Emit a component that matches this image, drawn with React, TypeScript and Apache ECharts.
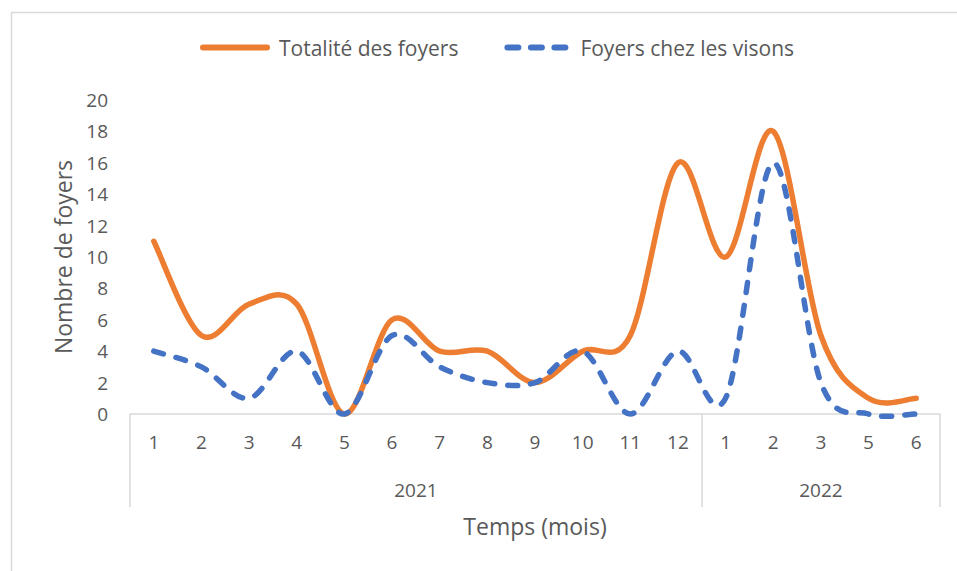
import React, { useEffect, useRef } from "react";
import * as echarts from "echarts";

const months = ["1", "2", "3", "4", "5", "6", "7", "8", "9", "10", "11", "12", "1", "2", "3", "5", "6"];
const years = ["2021", "2022"];
const yearSpans = [12, 5];
const totalFoyers = [11, 5, 7, 7, 0, 6, 4, 4, 2, 4, 5, 16, 10, 18, 5, 1, 1];
const visonFoyers = [4, 3, 1, 4, 0, 5, 3, 2, 2, 4, 0, 4, 1, 16, 2, 0, 0];

const FONT = "Open Sans";
const GRAY = "#595959";
const LINE_GRAY = "#D9D9D9";
const ORANGE = "#ED7D31";
const BLUE = "#4472C4";

const solidIcon = "path://M3,0 H67 A3,3 0 0 1 67,6 H3 A3,3 0 0 1 3,0 Z";
const dashIcon =
  "path://M3,0 H14 A3,3 0 0 1 14,6 H3 A3,3 0 0 1 3,0 Z M26.5,0 H37.5 A3,3 0 0 1 37.5,6 H26.5 A3,3 0 0 1 26.5,0 Z M50,0 H61 A3,3 0 0 1 61,6 H50 A3,3 0 0 1 50,0 Z";

// Excel-like smoothed line (Catmull-Rom style Bezier) drawn through the library's scales
function smoothSeries(name: string, values: number[], color: string, dash?: number[]) {
  return {
    name,
    type: "custom",
    coordinateSystem: "cartesian2d",
    clip: false,
    z: 3,
    data: values.map((v, i) => [i, v]),
    encode: { x: 0, y: 1 },
    itemStyle: { color },
    renderItem: (params: any, api: any) => {
      if (params.dataIndex !== 0) return null;
      const pts = values.map((v, i) => api.coord([i, v]));
      const n = pts.length;
      const P = (k: number) => pts[Math.max(0, Math.min(n - 1, k))];
      let d = `M${pts[0][0]},${pts[0][1]}`;
      for (let i = 0; i < n - 1; i++) {
        const p0 = P(i - 1), p1 = P(i), p2 = P(i + 1), p3 = P(i + 2);
        const c1x = p1[0] + (p2[0] - p0[0]) / 6;
        const c1y = p1[1] + (p2[1] - p0[1]) / 6;
        const c2x = p2[0] - (p3[0] - p1[0]) / 6;
        const c2y = p2[1] - (p3[1] - p1[1]) / 6;
        d += ` C${c1x},${c1y} ${c2x},${c2y} ${p2[0]},${p2[1]}`;
      }
      return {
        type: "path",
        shape: { pathData: d },
        style: {
          fill: "none",
          stroke: color,
          lineWidth: 5.5,
          lineCap: "round",
          lineJoin: "round",
          lineDash: dash,
        },
      };
    },
  };
}

export default function App() {
  const ref = useRef<HTMLDivElement>(null);
  useEffect(() => {
    if (!ref.current) return;
    const chart = echarts.init(ref.current, undefined, { renderer: "svg" });
    const boundaries: number[] = [0];
    const centers: number[] = [];
    let acc = 0;
    yearSpans.forEach((s) => {
      centers.push(acc + s / 2);
      acc += s;
      boundaries.push(acc);
    });
    chart.setOption({
      animation: false,
      backgroundColor: "#ffffff",
      textStyle: { fontFamily: FONT },
      graphic: [
        {
          type: "rect",
          left: 9,
          top: 10,
          shape: { width: 1200, height: 1200 },
          style: { fill: "none", stroke: LINE_GRAY, lineWidth: 1.5 },
          silent: true,
        },
      ],
      legend: {
        top: 32,
        left: 195,
        itemWidth: 70,
        itemHeight: 6,
        itemGap: 46,
        textStyle: { color: GRAY, fontSize: 21, fontFamily: FONT, padding: [0, 0, 0, 4] },
        data: [
          { name: "Totalité des foyers", icon: solidIcon, itemStyle: { color: ORANGE } },
          { name: "Foyers chez les visons", icon: dashIcon, itemStyle: { color: BLUE } },
        ],
      },
      grid: { left: 130, right: 17, top: 100, bottom: 157, containLabel: false },
      xAxis: [
        {
          type: "category",
          data: months,
          boundaryGap: true,
          axisLine: { show: true, lineStyle: { color: LINE_GRAY, width: 1.5 } },
          axisTick: { show: false },
          axisLabel: { color: GRAY, fontSize: 19, fontFamily: FONT, margin: 18, interval: 0 },
          name: "Temps (mois)",
          nameLocation: "middle",
          nameGap: 100,
          nameTextStyle: { color: GRAY, fontSize: 23, fontFamily: FONT },
        },
        {
          type: "value",
          min: 0,
          max: months.length,
          position: "bottom",
          axisLine: { show: false },
          splitLine: { show: false },
          axisTick: {
            show: true,
            customValues: boundaries,
            length: 93,
            lineStyle: { color: LINE_GRAY, width: 1.5 },
          },
          axisLabel: {
            show: true,
            customValues: centers,
            formatter: (v: number) => {
              const i = centers.findIndex((c) => Math.abs(c - v) < 1e-6);
              return i >= 0 ? years[i] : "";
            },
            color: GRAY,
            fontSize: 19,
            fontFamily: FONT,
            margin: 66,
          },
        },
      ],
      yAxis: {
        type: "value",
        min: 0,
        max: 20,
        interval: 2,
        axisLine: { show: false },
        axisTick: { show: false },
        splitLine: { show: false },
        axisLabel: { color: GRAY, fontSize: 19, fontFamily: FONT, margin: 22 },
        name: "Nombre de foyers",
        nameLocation: "middle",
        nameGap: 56,
        nameTextStyle: { color: GRAY, fontSize: 23, fontFamily: FONT },
      },
      series: [
        smoothSeries("Totalité des foyers", totalFoyers, ORANGE),
        smoothSeries("Foyers chez les visons", visonFoyers, BLUE, [10, 13]),
      ],
    });
    return () => chart.dispose();
  }, []);
  return (
    <div
      ref={ref}
      style={{ position: "fixed", left: 0, top: 0, width: 957, height: 571, background: "#fff" }}
    />
  );
}
